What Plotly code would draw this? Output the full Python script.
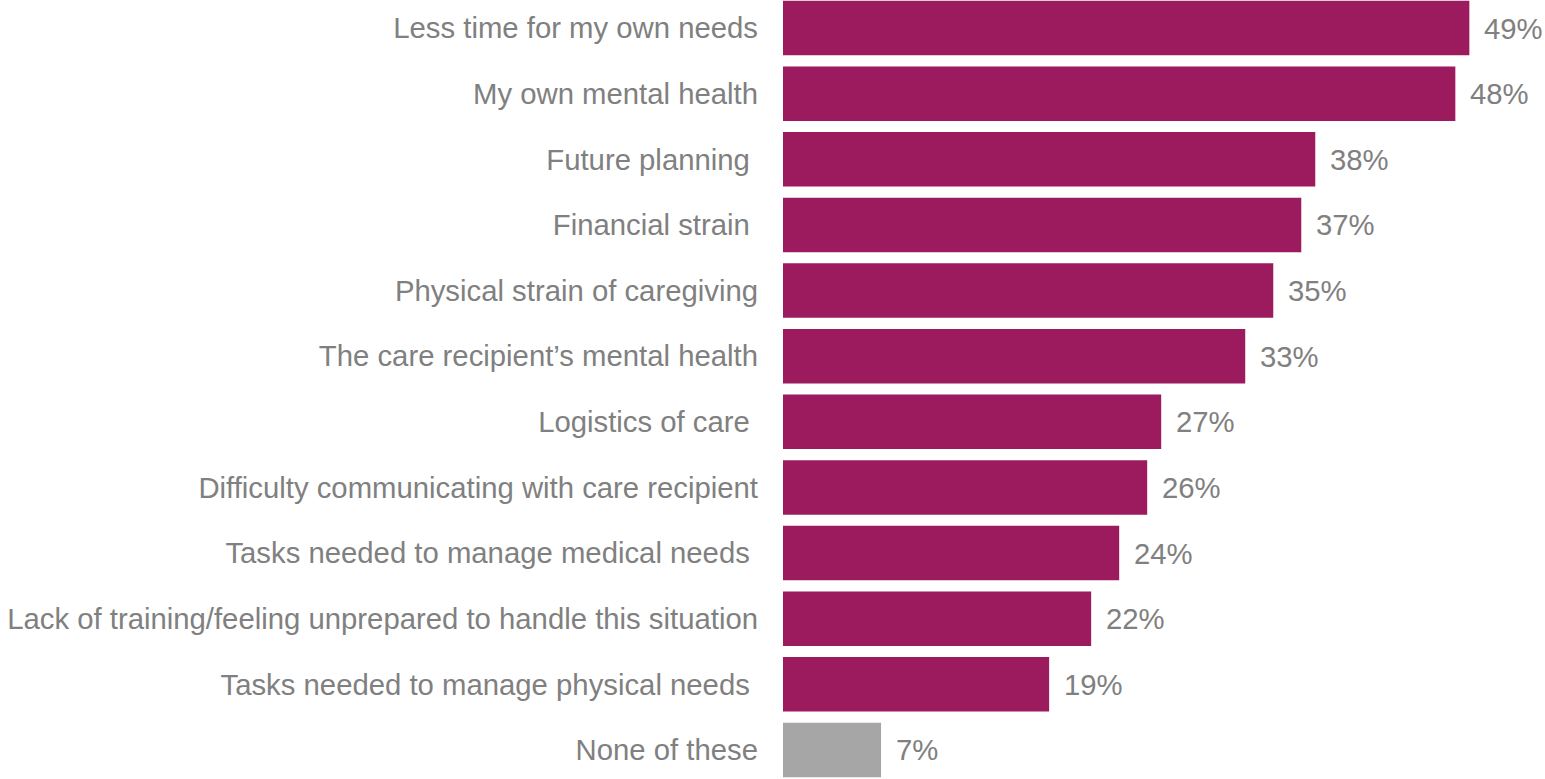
import plotly.graph_objects as go

categories = [
    "Less time for my own needs",
    "My own mental health",
    "Future planning\u00a0",
    "Financial strain\u00a0",
    "Physical strain of caregiving",
    "The care recipient\u2019s mental health",
    "Logistics of care\u00a0",
    "Difficulty communicating with care recipient",
    "Tasks needed to manage medical needs\u00a0",
    "Lack of training/feeling unprepared to handle this situation",
    "Tasks needed to manage physical needs\u00a0",
    "None of these",
]
values = [49, 48, 38, 37, 35, 33, 27, 26, 24, 22, 19, 7]

MAIN = "#9c1b5f"
NONE = "#a6a6a6"
TEXT = "#808080"
FONT = "Liberation Sans, Arial, sans-serif"
FSIZE = 29.3
colors = [NONE if c == "None of these" else MAIN for c in categories]

fig = go.Figure(
    go.Bar(
        x=values,
        y=categories,
        orientation="h",
        marker=dict(color=colors, line=dict(width=0)),
        width=0.83,
        hoverinfo="skip",
    )
)

# value labels just right of each bar end
for c, v in zip(categories, values):
    fig.add_annotation(
        x=v, y=c, text=f"{v}%", showarrow=False,
        xanchor="left", xshift=13, yanchor="middle",
        font=dict(family=FONT, size=FSIZE, color=TEXT),
    )

fig.update_layout(
    width=1545, height=779,
    margin=dict(l=783, r=0, t=0, b=0),
    paper_bgcolor="white", plot_bgcolor="white",
    showlegend=False,
    font=dict(family=FONT, size=FSIZE, color=TEXT),
    xaxis=dict(range=[0, 54.4], visible=False, fixedrange=True),
    yaxis=dict(
        type="category",
        range=[11.442, -0.427],
        showgrid=False, zeroline=False, showline=False,
        ticks="", ticklabelstandoff=24,
        tickfont=dict(family=FONT, size=FSIZE, color=TEXT),
        fixedrange=True,
    ),
)

fig.write_html("out.html")
